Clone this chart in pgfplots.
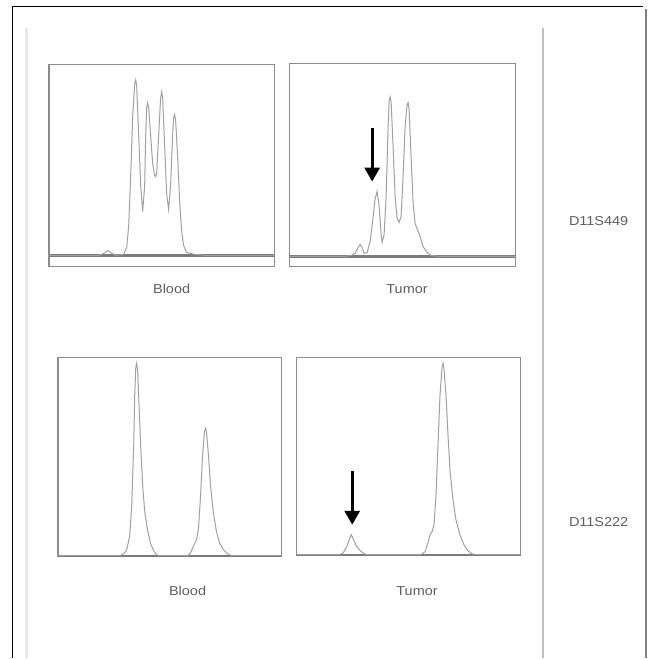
\documentclass[border=0pt]{standalone}
\usepackage{pgfplots}
\pgfplotsset{compat=1.18}
\usetikzlibrary{arrows.meta}
\usepackage{fontspec}
\setmainfont{Liberation Sans}
\definecolor{frame}{HTML}{8C8C8C}
\definecolor{base}{HTML}{7A7A7A}
\definecolor{curve}{HTML}{A0A0A0}
\definecolor{txt}{HTML}{5E5E5E}
\pgfplotsset{
  panel/.style={
    scale only axis, anchor=north west,
    xtick=\empty, ytick=\empty,
    axis line style={frame, line width=1.3bp},
    clip=false,
  },
  trace/.style={curve, line width=1bp},
  baseline/.style={base, line width=2.2bp},
}
\begin{document}
\begin{tikzpicture}[x=1bp,y=1bp]
\path (0,0) rectangle (649,659);
% outer frame
\draw[black, line width=1bp] (13,0) -- (13,652) -- (644,652);
\draw[gray, line width=1.5bp] (647.5,650) -- (647.5,0);
\draw[gray!18, line width=3bp] (27,631) -- (27,0);
\draw[gray!50, line width=2.5bp] (544,631) -- (544,0);

% Panel 1: top-left (Blood, D11S449)
\begin{axis}[panel, at={(49,594)}, width=226bp, height=202bp,
  xmin=49, xmax=275, ymin=-11, ymax=191]
\addplot[baseline] coordinates {(49,0) (275,0)};
\addplot[trace] coordinates {
(49,0) (100,0) (104,2) (108,5) (112,2) (116,0) (124,1) (127,8) (129,30) (131,80) (133,140) (135,172) (136,176) (137,170) (139,120) (141,70) (143,44) (145,70) (146,120) (147,148) (148,153) (149,148) (151,120) (153,92) (155,80) (156,79) (157,82) (159,120) (161,158) (162,164) (163,158) (165,110) (167,62) (169,46) (171,70) (173,120) (174,138) (175,141) (176,136) (178,100) (180,55) (182,25) (184,10) (187,3) (195,1) (207,0) (275,0)};
\end{axis}

% Panel 2: top-right (Tumor, D11S449)
\begin{axis}[panel, at={(290,595)}, width=227bp, height=203bp,
  xmin=290, xmax=517, ymin=-10, ymax=193]
\addplot[baseline] coordinates {(290,0) (517,0)};
\addplot[trace] coordinates {
(290,0) (345,0) (352,1) (356,3) (359,9) (361,12) (363,9) (365,3) (368,4) (371,15) (374,40) (376,58) (378,65) (380,50) (382,22) (383,14) (385,22) (387,60) (389,130) (390,155) (391,160) (392,155) (394,110) (396,60) (398,38) (400,34) (402,40) (404,80) (406,130) (408,152) (409,154) (410,148) (412,100) (414,55) (416,33) (418,28) (421,20) (424,10) (428,4) (432,1) (440,0) (517,0)};
\draw[-{Triangle[width=15bp,length=14bp]}, black, line width=3bp] (axis cs:373,129) -- (axis cs:373,75);
\end{axis}

% Panel 3: bottom-left (Blood, D11S222)
\begin{axis}[panel, at={(58,301)}, width=224bp, height=200bp,
  xmin=58, xmax=282, ymin=-1, ymax=199]
\addplot[baseline] coordinates {(58,0) (282,0)};
\addplot[trace] coordinates {
(58,0) (120,0) (124,2) (127,6) (130,20) (132,50) (134,110) (135,160) (136,188) (137,193) (138,185) (139,160) (141,110) (143,70) (145,45) (148,25) (151,12) (154,5) (157,1) (160,0) (188,0) (191,3) (194,10) (197,16) (199,28) (201,60) (203,100) (205,125) (206,128) (207,124) (209,100) (211,70) (214,42) (217,24) (220,13) (224,6) (228,2) (232,0) (282,0)};
\end{axis}

% Panel 4: bottom-right (Tumor, D11S222)
\begin{axis}[panel, at={(297,301)}, width=225bp, height=199bp,
  xmin=297, xmax=522, ymin=-1, ymax=198]
\addplot[baseline] coordinates {(297,0) (522,0)};
\addplot[trace] coordinates {
(297,0) (340,0) (344,2) (347,7) (350,15) (352,20) (354,16) (357,9) (361,4) (365,1) (368,0) (422,0) (426,3) (429,12) (431,20) (433,23) (435,30) (437,60) (439,110) (441,160) (443,188) (444,192) (445,186) (447,160) (449,120) (451,85) (454,55) (457,35) (461,20) (465,10) (469,4) (473,1) (477,0) (522,0)};
\draw[-{Triangle[width=15bp,length=14bp]}, black, line width=3bp] (axis cs:353,84) -- (axis cs:353,30);
\end{axis}

% labels
\begin{scope}[every node/.style={text=txt, font=\fontsize{13}{15}\selectfont, xscale=1.12}]
\node at (172,369) {Blood};
\node at (408,369) {Tumor};
\node at (188,67) {Blood};
\node at (418,67) {Tumor};
\node at (600,437) {D11S449};
\node at (600,136) {D11S222};
\end{scope}
\end{tikzpicture}
\end{document}
